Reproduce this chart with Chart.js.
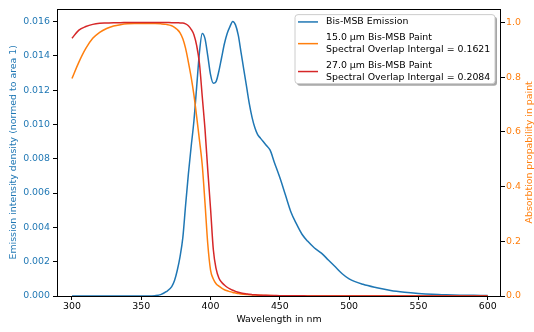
<!DOCTYPE html>
<html>
<head>
<meta charset="utf-8">
<script src="https://cdn.jsdelivr.net/npm/chart.js@4.4.0/dist/chart.umd.min.js"></script>
<style>
  html, body { margin: 0; padding: 0; background: #fff; }
  #chart { display: block; }
</style>
</head>
<body>
<canvas id="chart" width="534" height="332"></canvas>
<script>
// Wavelength grid (nm) shared by all three curves
var wavelengths = [300, 305, 310, 315, 320, 325, 330, 335, 340, 345, 350, 355, 360, 364, 368, 372,
    374, 376, 378, 380, 382, 384, 386, 388, 390, 392, 394, 396, 398, 400, 402, 404, 406, 408, 410,
    412, 414, 416, 418, 420, 422, 424, 426, 428, 430, 432, 434, 436, 438, 440, 443, 446, 450, 454,
    458, 462, 466, 470, 475, 480, 485, 490, 495, 500, 510, 520, 530, 540, 550, 560, 570, 580, 590, 600];

// Bis-MSB emission, normed to area 1
var emission = [0, 0, 0, 0, 0, 0, 0, 0, 0, 0, 0, 0, 0.00002, 0.00008, 0.00025, 0.00055,
    0.0009, 0.0015, 0.0023, 0.0034, 0.0053, 0.0071, 0.0087, 0.0102, 0.0122, 0.0142, 0.0153, 0.0150,
    0.0140, 0.0129, 0.0124, 0.0125, 0.0131, 0.0139, 0.0147, 0.0153, 0.0157, 0.0160, 0.0158, 0.0152,
    0.0142, 0.0132, 0.0122, 0.0112, 0.0104, 0.0098, 0.0094, 0.0092, 0.0090, 0.0088, 0.0085, 0.0078,
    0.0069, 0.0059, 0.0049, 0.0042, 0.0036, 0.0032, 0.0028, 0.0025, 0.0021, 0.0017, 0.0013, 0.00100,
    0.00068, 0.00048, 0.00032, 0.00022, 0.00015, 0.0001, 0.00007, 0.00005, 0.00004, 0.00003];

// Absorption probability, 15 um paint
var paint15 = [0.795, 0.855, 0.905, 0.942, 0.964, 0.978, 0.987, 0.992, 0.995, 0.996, 0.996, 0.996,
    0.996, 0.995, 0.993, 0.988, 0.982, 0.974, 0.962, 0.94, 0.905, 0.855, 0.80, 0.735, 0.655, 0.57,
    0.48, 0.34, 0.19, 0.095, 0.062, 0.045, 0.036, 0.029, 0.023, 0.019, 0.016, 0.013, 0.011, 0.009,
    0.0075, 0.0065, 0.0055, 0.0045, 0.004, 0.0035, 0.003, 0.0026, 0.0022, 0.002, 0.0016, 0.0013,
    0.001, 0.0008, 0.0006, 0.0005, 0.0004, 0.0003, 0.0002, 0.0002, 0.0001, 0.0001, 0.0001, 0.0001,
    0, 0, 0, 0, 0, 0, 0, 0, 0, 0];

// Absorption probability, 27 um paint
var paint27 = [0.942, 0.972, 0.985, 0.993, 0.997, 0.998, 0.999, 0.999, 1.0, 1.0, 1.0, 1.0,
    1.0, 1.0, 1.0, 0.999, 0.999, 0.999, 0.998, 0.998, 0.995, 0.988, 0.975, 0.955, 0.915, 0.85,
    0.73, 0.61, 0.46, 0.32, 0.17, 0.10, 0.066, 0.05, 0.04, 0.032, 0.026, 0.021, 0.017, 0.014,
    0.011, 0.009, 0.0075, 0.006, 0.005, 0.0042, 0.0036, 0.0031, 0.0027, 0.0023, 0.0019, 0.0016,
    0.0012, 0.001, 0.0008, 0.0006, 0.0005, 0.0004, 0.0003, 0.0003, 0.0002, 0.0002, 0.0001, 0.0001,
    0, 0, 0, 0, 0, 0, 0, 0, 0, 0];

// Tick labels
var xTicks = [300, 350, 400, 450, 500, 550, 600];
var leftTicks = [0, 0.002, 0.004, 0.006, 0.008, 0.010, 0.012, 0.014, 0.016];
var rightTicks = [0, 0.2, 0.4, 0.6, 0.8, 1.0];

var blue = '#1f77b4',
    orange = '#ff7f0e',
    red = '#d62728';

Chart.defaults.font.family = "'DejaVu Sans', sans-serif";
Chart.defaults.font.size = 9.4;
Chart.defaults.color = '#000';

function toPoints(values) {
    return wavelengths.map(function (w, i) {
        return { x: w, y: values[i] };
    });
}

function setTicks(list) {
    return function (scale) {
        scale.ticks = list.map(function (v) { return { value: v }; });
    };
}

// Axes frame, right axis title and the legend box
var decorations = {
    id: 'decorations',
    afterDraw: function (chart) {
        var ctx = chart.ctx,
            area = chart.chartArea;

        ctx.save();
        ctx.strokeStyle = '#000';
        ctx.lineWidth = 1;
        ctx.strokeRect(Math.round(area.left) + 0.5, Math.round(area.top) + 0.5,
            Math.round(area.right - area.left) - 1, Math.round(area.bottom - area.top));

        // right y title, reads bottom to top like matplotlib
        ctx.translate(530, (area.top + area.bottom) / 2);
        ctx.rotate(-Math.PI / 2);
        ctx.fillStyle = orange;
        ctx.font = "9.4px 'DejaVu Sans'";
        ctx.textAlign = 'center';
        ctx.textBaseline = 'middle';
        ctx.fillText('Absorbtion propability in paint', 0, 0);
        ctx.restore();

        // legend
        var w = 200, h = 69;
        var x0 = area.right - 6 - w, y0 = area.top + 6;
        ctx.save();
        roundRect(ctx, x0 + 2, y0 + 2, w, h, 3);
        ctx.fillStyle = 'rgba(0,0,0,0.35)';
        ctx.fill();
        roundRect(ctx, x0, y0, w, h, 3);
        ctx.fillStyle = 'rgba(255,255,255,1)';
        ctx.fill();
        ctx.strokeStyle = '#cccccc';
        ctx.lineWidth = 1;
        ctx.stroke();

        ctx.font = "9.4px 'DejaVu Sans'";
        ctx.textAlign = 'left';
        ctx.textBaseline = 'middle';
        var y = y0 + 7.3;
        chart.data.datasets.forEach(function (ds) {
            var lines = ds.label.split('\n');
            var mid = y + (lines.length - 1) * 12.4 / 2;
            ctx.strokeStyle = ds.borderColor;
            ctx.lineWidth = 1.5;
            ctx.beginPath();
            ctx.moveTo(x0 + 3, mid);
            ctx.lineTo(x0 + 23, mid);
            ctx.stroke();
            ctx.fillStyle = '#000';
            lines.forEach(function (t, k) {
                ctx.fillText(t, x0 + 31, y + k * 12.4);
            });
            y += lines.length * 12.4 + 3.1;
        });
        ctx.restore();
    }
};

function roundRect(ctx, x, y, w, h, r) {
    ctx.beginPath();
    ctx.moveTo(x + r, y);
    ctx.lineTo(x + w - r, y);
    ctx.arcTo(x + w, y, x + w, y + r, r);
    ctx.lineTo(x + w, y + h - r);
    ctx.arcTo(x + w, y + h, x + w - r, y + h, r);
    ctx.lineTo(x + r, y + h);
    ctx.arcTo(x, y + h, x, y + h - r, r);
    ctx.lineTo(x, y + r);
    ctx.arcTo(x, y, x + r, y, r);
    ctx.closePath();
}

var tickGrid = {
    drawOnChartArea: false,
    drawTicks: true,
    tickLength: 4,
    color: '#000',
    lineWidth: 1
};

var chart = new Chart(document.getElementById('chart'), {
    type: 'line',
    data: {
        datasets: [
            {
                label: 'Bis-MSB Emission',
                data: toPoints(emission),
                borderColor: blue,
                yAxisID: 'y',
                order: 3
            },
            {
                label: '15.0 \u03bcm Bis-MSB Paint\nSpectral Overlap Intergal = 0.1621',
                data: toPoints(paint15),
                borderColor: orange,
                yAxisID: 'y2',
                order: 2
            },
            {
                label: '27.0 \u03bcm Bis-MSB Paint\nSpectral Overlap Intergal = 0.2084',
                data: toPoints(paint27),
                borderColor: red,
                yAxisID: 'y2',
                order: 1
            }
        ]
    },
    options: {
        responsive: false,
        animation: false,
        layout: { padding: { top: 5, left: 0, right: 0, bottom: 0 } },
        elements: {
            point: { radius: 0 },
            line: { borderWidth: 1.5, cubicInterpolationMode: 'monotone', fill: false }
        },
        plugins: {
            legend: { display: false },
            tooltip: { enabled: false }
        },
        scales: {
            x: {
                type: 'linear',
                min: 289.2,
                max: 609.6,
                afterBuildTicks: setTicks(xTicks),
                afterFit: function (s) { s.height = 36; },
                grid: tickGrid,
                border: { display: false },
                ticks: {
                    color: '#000',
                    padding: 1,
                    maxRotation: 0,
                    callback: function (v) { return String(v); }
                },
                title: {
                    display: true,
                    text: 'Wavelength in nm',
                    color: '#000',
                    padding: { top: 0, bottom: 6.4 }
                }
            },
            y: {
                position: 'left',
                min: 0,
                max: 0.016748,
                afterBuildTicks: setTicks(leftTicks),
                afterFit: function (s) { s.width = 57; },
                grid: tickGrid,
                border: { display: false },
                ticks: {
                    color: blue,
                    padding: 3,
                    callback: function (v) { return v.toFixed(3); }
                },
                title: {
                    display: true,
                    text: 'Emission intensity density (normed to area 1)',
                    color: blue,
                    padding: { top: 8.4, bottom: 0 }
                }
            },
            y2: {
                position: 'right',
                min: 0,
                max: 1.0505,
                afterBuildTicks: setTicks(rightTicks),
                afterFit: function (s) { s.width = 33; },
                grid: tickGrid,
                border: { display: false },
                ticks: {
                    color: orange,
                    padding: 1,
                    callback: function (v) { return v.toFixed(1); }
                },
                title: { display: false }
            }
        }
    },
    plugins: [decorations]
});
</script>
</body>
</html>
